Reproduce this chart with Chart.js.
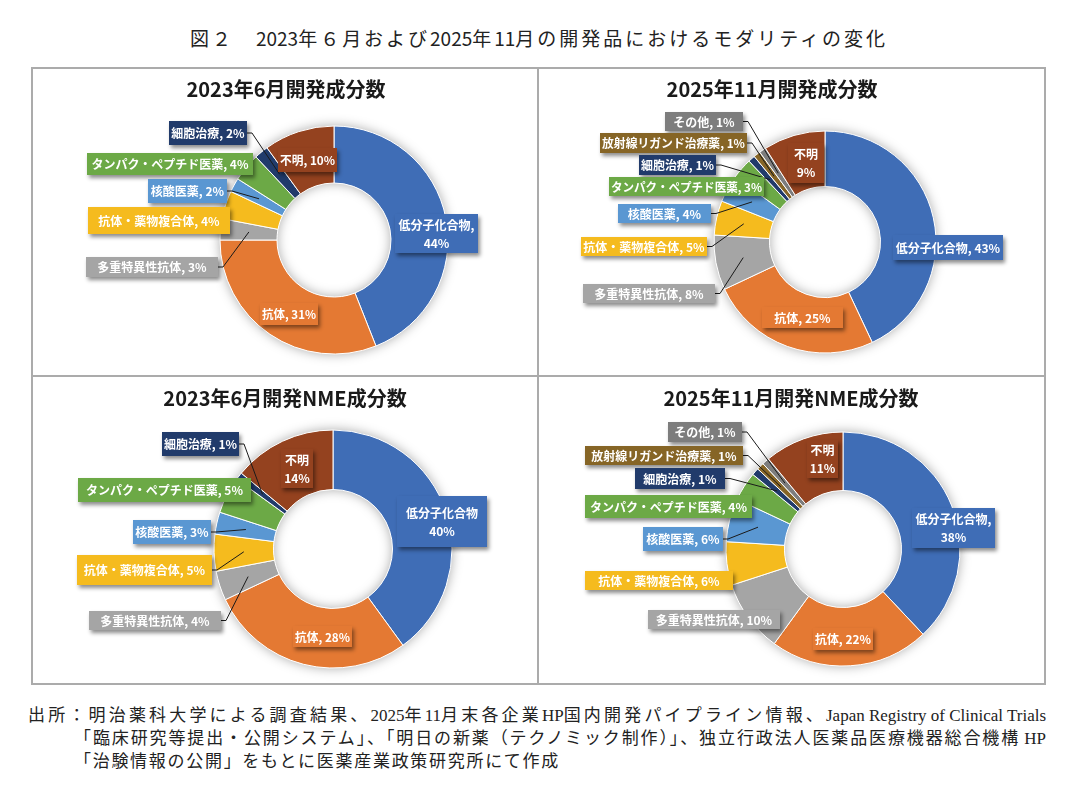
<!DOCTYPE html>
<html><head><meta charset="utf-8">
<script src="https://cdn.jsdelivr.net/npm/chart.js@4.4.1/dist/chart.umd.min.js"></script>
<style>
body{margin:0;background:#fff;}
#page{position:relative;width:1074px;height:802px;overflow:hidden;background:#fff;font-family:"Noto Sans CJK JP",sans-serif;}
canvas{position:absolute;}
.ln{position:absolute;background:#ababab;z-index:2;}
#title{position:absolute;left:190px;top:26px;white-space:nowrap;font-size:19px;line-height:24px;color:#222;}
.foot{position:absolute;white-space:nowrap;font-family:"Liberation Serif","Noto Sans CJK JP",serif;font-size:17px;line-height:20px;color:#222;}
.lat{letter-spacing:0px !important;}
</style></head>
<body>
<div id="page">
  <div id="title">図２　<span class="lat">2023</span>年６月および<span class="lat">2025</span>年<span class="lat">11</span>月の開発品におけるモダリティの変化</div>
  <canvas id="c1" width="506" height="308" style="left:32px;top:68px"></canvas>
  <canvas id="c2" width="506" height="308" style="left:539px;top:68px"></canvas>
  <canvas id="c3" width="506" height="308" style="left:32px;top:377px"></canvas>
  <canvas id="c4" width="506" height="308" style="left:539px;top:377px"></canvas>
  <div class="ln" style="left:31px;top:67px;width:1015px;height:2px"></div>
  <div class="ln" style="left:31px;top:683px;width:1015px;height:2px"></div>
  <div class="ln" style="left:31px;top:67px;width:2px;height:618px"></div>
  <div class="ln" style="left:1044px;top:67px;width:2px;height:618px"></div>
  <div class="ln" style="left:537px;top:67px;width:2px;height:618px"></div>
  <div class="ln" style="left:31px;top:375px;width:1015px;height:2px"></div>
  <div class="foot" id="f1" style="left:28px;top:706px">出所：明治薬科大学による調査結果、<span class="lat">2025</span>年<span class="lat">11</span>月末各企業<span class="lat">HP</span>国内開発パイプライン情報、<span class="lat">Japan Registry of Clinical Trials</span></div>
  <div class="foot" id="f2" style="left:74px;top:729px">「臨床研究等提出・公開システム」、「明日の新薬（テクノミック制作）」、独立行政法人医薬品医療機器総合機構<span class="lat"> HP</span></div>
  <div class="foot" id="f3" style="left:74px;top:752px">「治験情報の公開」をもとに医薬産業政策研究所にて作成</div>
</div>
<script>
// ---- data ----
const chartTitles = ['2023年6月開発成分数','2025年11月開発成分数','2023年6月開発NME成分数','2025年11月開発NME成分数'];
const cats2023 = ['低分子化合物','抗体','多重特異性抗体','抗体・薬物複合体','核酸医薬','タンパク・ペプチド医薬','細胞治療','不明'];
const cats2025 = ['低分子化合物','抗体','多重特異性抗体','抗体・薬物複合体','核酸医薬','タンパク・ペプチド医薬','細胞治療','放射線リガンド治療薬','その他','不明'];
const dev2023 = [44,31,3,4,2,4,2,10];
const dev2025 = [43,25,8,5,4,3,1,1,1,9];
const nme2023 = [40,28,4,5,3,5,1,14];
const nme2025 = [38,22,10,6,6,4,1,1,1,11];

// ---- styles ----
const catColors = {'低分子化合物':'#3F6DB6','抗体':'#E47933','多重特異性抗体':'#A5A5A5','抗体・薬物複合体':'#F5BB1E','核酸医薬':'#5A97D2','タンパク・ペプチド医薬':'#6CA946','細胞治療':'#213B6B','放射線リガンド治療薬':'#866526','その他':'#7D7D7D','不明':'#94421F'};

// label layout: [index, box x, y, w, h, format, leader]
const lay1 = [[6,137,53,78,24,'one',1],[5,55,85,166,22,'one',0],[4,116,111,79,24,'one',1],[3,56,139,142,27,'one',0],[2,54,189,132,20,'one',1],[7,246,80,59,24,'one',0],[0,363,146,83,39,'twoc',0],[1,228,235,58,22,'one',0]];
const lay2 = [[8,126,44,78,19,'one',1],[7,61,65,147,20,'one',1],[6,100,87,77,20,'one',1],[5,70,109,155,19,'one',0],[4,79,136,93,19,'one',1],[3,42,169,126,19,'one',1],[2,44,216,132,19,'one',1],[9,249,75,36,40,'two',0],[0,354,167,110,25,'one',0],[1,223,239,81,21,'one',0]];
const lay3 = [[6,130,55,77,24,'one',1],[5,46,101,173,24,'one',0],[4,101,143,78,24,'one',1],[3,45,178,135,30,'one',1],[2,57,234,132,19,'one',1],[7,249,72,32,39,'two',0],[0,365,119,90,51,'two',0],[1,261,249,59,21,'one',0]];
const lay4 = [[8,129,45,74,20,'one',1],[7,46,69,158,19,'one',1],[6,96,91,90,21,'one',1],[5,46,118,167,23,'one',0],[4,104,150,80,24,'one',1],[3,46,194,148,19,'one',0],[2,109,233,132,19,'one',0],[9,268,63,31,38,'two',0],[0,373,131,83,40,'twoc',0],[1,274,251,60,22,'one',0]];

const FONT = '"Noto Sans CJK JP","Noto Sans",sans-serif';

function decor(cfg){
  return {
    id:'decor',
    beforeDatasetsDraw(chart){
      const a = chart.getDatasetMeta(0).data[0];
      const ctx = chart.ctx;
      ctx.save();
      ctx.shadowColor='rgba(0,0,0,0.35)'; ctx.shadowBlur=12;
      ctx.beginPath();
      ctx.arc(a.x,a.y,a.outerRadius,0,Math.PI*2);
      ctx.arc(a.x,a.y,a.innerRadius,0,Math.PI*2,true);
      ctx.fillStyle='#fff'; ctx.fill('evenodd');
      ctx.restore();
    },
    afterDatasetsDraw(chart){
      const ctx = chart.ctx;
      const meta = chart.getDatasetMeta(0);
      const cats = chart.data.labels, vals = chart.data.datasets[0].data;
      cfg.layout.forEach(L=>{
        const [i,bx,by,bw,bh,fmt,lead]=L;
        if(!lead) return;
        const el = meta.data[i];
        const mid=(el.startAngle+el.endAngle)/2, R=(el.innerRadius+el.outerRadius)/2;
        const tx=el.x+R*Math.cos(mid), ty=el.y+R*Math.sin(mid);
        const sx=bx+bw, sy=by+bh/2;
        ctx.save();
        ctx.beginPath(); ctx.moveTo(sx,sy); ctx.lineTo(sx+5,sy); ctx.lineTo(tx,ty);
        ctx.strokeStyle='#1a1a1a'; ctx.lineWidth=1; ctx.stroke();
        ctx.restore();
      });
      cfg.layout.forEach(L=>{
        const [i,bx,by,bw,bh,fmt]=L;
        const cat=cats[i], v=vals[i];
        ctx.save();
        ctx.shadowColor='rgba(0,0,0,0.45)'; ctx.shadowBlur=4; ctx.shadowOffsetX=2; ctx.shadowOffsetY=3;
        ctx.fillStyle=catColors[cat]; ctx.fillRect(bx,by,bw,bh);
        ctx.restore();
        ctx.save();
        ctx.fillStyle='#fff'; ctx.font='bold 12px '+FONT; ctx.textAlign='center'; ctx.textBaseline='middle';
        const cx=bx+bw/2, cy=by+bh/2;
        if(fmt==='one'){ ctx.fillText(cat+', '+v+'%',cx,cy+0.5,bw-4); }
        else {
          const l1 = fmt==='twoc' ? cat+',' : cat;
          ctx.fillText(l1,cx,cy-8.5,bw-4); ctx.fillText(v+'%',cx,cy+9.5,bw-4);
        }
        ctx.restore();
      });
      ctx.save();
      ctx.fillStyle='#1a1a1a'; ctx.font='bold 20px '+FONT; ctx.textAlign='center'; ctx.textBaseline='middle';
      ctx.fillText(cfg.title,cfg.tx,cfg.ty);
      ctx.restore();
    }
  };
}

function makeChart(id,cats,vals,layout,title,tx,cx,cy,r){
  const W=506,H=308;
  new Chart(document.getElementById(id),{
    type:'doughnut',
    data:{labels:cats,datasets:[{data:vals,backgroundColor:cats.map(c=>catColors[c]),borderColor:'#ffffff',borderWidth:1}]},
    options:{responsive:false,animation:false,cutout:'50%',radius:r,events:[],
      layout:{padding:{left:cx-r,right:W-cx-r,top:cy-r,bottom:H-cy-r}},
      plugins:{legend:{display:false},tooltip:{enabled:false},title:{display:false}}},
    plugins:[decor({layout,title,tx,ty:21})]
  });
}

makeChart('c1',cats2023,dev2023,lay1,chartTitles[0],254,302,172,114);
makeChart('c2',cats2025,dev2025,lay2,chartTitles[1],233,286,174,111);
makeChart('c3',cats2023,nme2023,lay3,chartTitles[2],253,301,172,119);
makeChart('c4',cats2025,nme2025,lay4,chartTitles[3],252,304,172,117);

// fit page texts: spread spacing over non-Latin characters only
function fit(id,target){
  const el=document.getElementById(id);
  el.style.letterSpacing='0px';
  const w=el.getBoundingClientRect().width;
  let n=[...el.textContent].length;
  el.querySelectorAll('.lat').forEach(s=>{ n-=[...s.textContent].length; });
  el.style.letterSpacing=((target-w)/n)+'px';
}
fit('title',698);
fit('f1',1018);
fit('f2',972);
fit('f3',486);
</script>
</body></html>
